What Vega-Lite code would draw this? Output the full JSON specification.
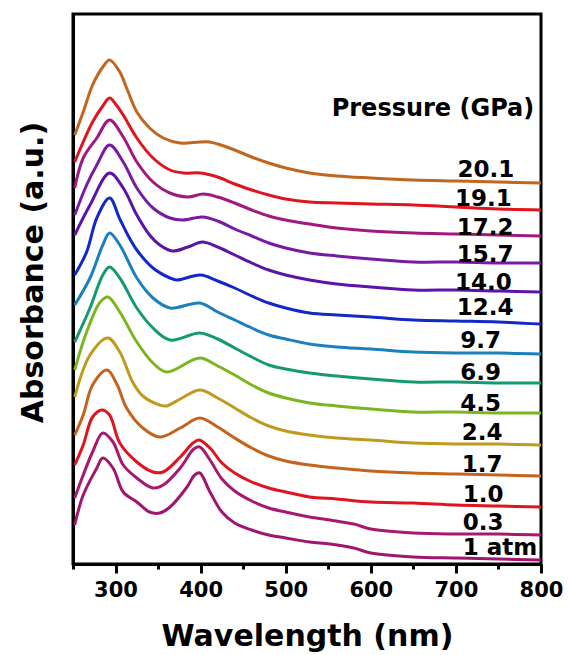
{
  "$schema": "https://vega.github.io/schema/vega-lite/v6.json",
  "width": 468,
  "height": 550,
  "autosize": {"type": "none"},
  "padding": {"left": 73, "top": 14, "right": 27, "bottom": 91},
  "background": "white",
  "config": {
    "view": {"stroke": "black", "strokeWidth": 3},
    "font": "DejaVu Sans",
    "axis": {"domainColor": "black", "domainWidth": 3, "tickColor": "black", "grid": false, "labelColor": "black", "titleColor": "black"}
  },
  "datasets": {
    "curves": [
      {"s":"20.1","w":252,"v":429},{"s":"20.1","w":262,"v":452},{"s":"20.1","w":273,"v":479},{"s":"20.1","w":285,"v":497},{"s":"20.1","w":293,"v":504},{"s":"20.1","w":305,"v":492},{"s":"20.1","w":313,"v":476},{"s":"20.1","w":325,"v":452},{"s":"20.1","w":340,"v":436},{"s":"20.1","w":356,"v":426},{"s":"20.1","w":376,"v":421},{"s":"20.1","w":399,"v":422},{"s":"20.1","w":410,"v":422},{"s":"20.1","w":420,"v":420},{"s":"20.1","w":440,"v":414},{"s":"20.1","w":460,"v":407},{"s":"20.1","w":480,"v":401},{"s":"20.1","w":500,"v":396},{"s":"20.1","w":528,"v":391},{"s":"20.1","w":560,"v":388},{"s":"20.1","w":600,"v":386},{"s":"20.1","w":650,"v":384},{"s":"20.1","w":700,"v":383},{"s":"20.1","w":750,"v":382},{"s":"20.1","w":800,"v":381},
      {"s":"19.1","w":252,"v":402},{"s":"19.1","w":262,"v":422},{"s":"19.1","w":273,"v":442},{"s":"19.1","w":285,"v":458},{"s":"19.1","w":293,"v":466},{"s":"19.1","w":300,"v":460},{"s":"19.1","w":309,"v":449},{"s":"19.1","w":325,"v":426},{"s":"19.1","w":344,"v":406},{"s":"19.1","w":364,"v":394},{"s":"19.1","w":380,"v":391},{"s":"19.1","w":400,"v":391},{"s":"19.1","w":420,"v":387},{"s":"19.1","w":440,"v":380},{"s":"19.1","w":460,"v":374},{"s":"19.1","w":480,"v":369},{"s":"19.1","w":500,"v":365},{"s":"19.1","w":528,"v":362},{"s":"19.1","w":560,"v":361},{"s":"19.1","w":600,"v":360},{"s":"19.1","w":650,"v":359},{"s":"19.1","w":700,"v":357},{"s":"19.1","w":750,"v":355},{"s":"19.1","w":800,"v":354},
      {"s":"17.2","w":252,"v":376},{"s":"17.2","w":262,"v":406},{"s":"17.2","w":278,"v":426},{"s":"17.2","w":293,"v":444},{"s":"17.2","w":309,"v":427},{"s":"17.2","w":325,"v":402},{"s":"17.2","w":344,"v":382},{"s":"17.2","w":364,"v":371},{"s":"17.2","w":385,"v":367},{"s":"17.2","w":403,"v":370},{"s":"17.2","w":420,"v":367},{"s":"17.2","w":440,"v":361},{"s":"17.2","w":460,"v":354},{"s":"17.2","w":480,"v":348},{"s":"17.2","w":500,"v":344},{"s":"17.2","w":528,"v":340},{"s":"17.2","w":560,"v":336},{"s":"17.2","w":600,"v":333},{"s":"17.2","w":650,"v":331},{"s":"17.2","w":700,"v":330},{"s":"17.2","w":750,"v":329},{"s":"17.2","w":800,"v":328},
      {"s":"15.7","w":252,"v":349},{"s":"15.7","w":266,"v":379},{"s":"15.7","w":278,"v":399},{"s":"15.7","w":293,"v":419},{"s":"15.7","w":309,"v":402},{"s":"15.7","w":325,"v":376},{"s":"15.7","w":344,"v":356},{"s":"15.7","w":364,"v":346},{"s":"15.7","w":379,"v":344},{"s":"15.7","w":402,"v":347},{"s":"15.7","w":420,"v":343},{"s":"15.7","w":440,"v":335},{"s":"15.7","w":460,"v":328},{"s":"15.7","w":480,"v":321},{"s":"15.7","w":500,"v":316},{"s":"15.7","w":528,"v":311},{"s":"15.7","w":560,"v":308},{"s":"15.7","w":600,"v":305},{"s":"15.7","w":650,"v":302},{"s":"15.7","w":700,"v":302},{"s":"15.7","w":750,"v":301},{"s":"15.7","w":800,"v":301},
      {"s":"14.0","w":252,"v":329},{"s":"14.0","w":270,"v":359},{"s":"14.0","w":293,"v":391},{"s":"14.0","w":309,"v":376},{"s":"14.0","w":325,"v":349},{"s":"14.0","w":340,"v":329},{"s":"14.0","w":352,"v":319},{"s":"14.0","w":367,"v":313},{"s":"14.0","w":385,"v":317},{"s":"14.0","w":402,"v":322},{"s":"14.0","w":420,"v":317},{"s":"14.0","w":440,"v":309},{"s":"14.0","w":460,"v":301},{"s":"14.0","w":480,"v":294},{"s":"14.0","w":500,"v":289},{"s":"14.0","w":528,"v":284},{"s":"14.0","w":560,"v":280},{"s":"14.0","w":600,"v":277},{"s":"14.0","w":650,"v":274},{"s":"14.0","w":700,"v":274},{"s":"14.0","w":750,"v":273},{"s":"14.0","w":800,"v":272},
      {"s":"12.4","w":252,"v":289},{"s":"12.4","w":266,"v":312},{"s":"12.4","w":278,"v":346},{"s":"12.4","w":293,"v":366},{"s":"12.4","w":305,"v":345},{"s":"12.4","w":315,"v":328},{"s":"12.4","w":325,"v":314},{"s":"12.4","w":344,"v":296},{"s":"12.4","w":364,"v":286},{"s":"12.4","w":372,"v":284},{"s":"12.4","w":400,"v":289},{"s":"12.4","w":420,"v":283},{"s":"12.4","w":440,"v":276},{"s":"12.4","w":460,"v":268},{"s":"12.4","w":480,"v":261},{"s":"12.4","w":500,"v":256},{"s":"12.4","w":528,"v":251},{"s":"12.4","w":560,"v":249},{"s":"12.4","w":600,"v":247},{"s":"12.4","w":650,"v":244},{"s":"12.4","w":700,"v":243},{"s":"12.4","w":750,"v":242},{"s":"12.4","w":800,"v":240},
      {"s":"9.7","w":252,"v":259},{"s":"9.7","w":270,"v":286},{"s":"9.7","w":285,"v":319},{"s":"9.7","w":293,"v":331},{"s":"9.7","w":305,"v":319},{"s":"9.7","w":325,"v":286},{"s":"9.7","w":344,"v":266},{"s":"9.7","w":364,"v":256},{"s":"9.7","w":399,"v":261},{"s":"9.7","w":420,"v":252},{"s":"9.7","w":440,"v":244},{"s":"9.7","w":460,"v":236},{"s":"9.7","w":480,"v":229},{"s":"9.7","w":500,"v":225},{"s":"9.7","w":528,"v":220},{"s":"9.7","w":560,"v":217},{"s":"9.7","w":600,"v":215},{"s":"9.7","w":650,"v":212},{"s":"9.7","w":700,"v":211},{"s":"9.7","w":750,"v":211},{"s":"9.7","w":800,"v":210},
      {"s":"6.9","w":252,"v":222},{"s":"6.9","w":270,"v":256},{"s":"6.9","w":285,"v":289},{"s":"6.9","w":293,"v":297},{"s":"6.9","w":305,"v":286},{"s":"6.9","w":325,"v":256},{"s":"6.9","w":344,"v":236},{"s":"6.9","w":364,"v":224},{"s":"6.9","w":399,"v":231},{"s":"6.9","w":420,"v":225},{"s":"6.9","w":440,"v":216},{"s":"6.9","w":460,"v":207},{"s":"6.9","w":480,"v":199},{"s":"6.9","w":500,"v":195},{"s":"6.9","w":528,"v":191},{"s":"6.9","w":560,"v":188},{"s":"6.9","w":600,"v":185},{"s":"6.9","w":650,"v":182},{"s":"6.9","w":700,"v":182},{"s":"6.9","w":750,"v":181},{"s":"6.9","w":800,"v":181},
      {"s":"4.5","w":252,"v":194},{"s":"4.5","w":266,"v":232},{"s":"4.5","w":282,"v":262},{"s":"4.5","w":291,"v":267},{"s":"4.5","w":305,"v":252},{"s":"4.5","w":325,"v":222},{"s":"4.5","w":344,"v":201},{"s":"4.5","w":360,"v":192},{"s":"4.5","w":399,"v":206},{"s":"4.5","w":420,"v":198},{"s":"4.5","w":440,"v":189},{"s":"4.5","w":460,"v":179},{"s":"4.5","w":480,"v":171},{"s":"4.5","w":500,"v":166},{"s":"4.5","w":528,"v":161},{"s":"4.5","w":560,"v":158},{"s":"4.5","w":600,"v":155},{"s":"4.5","w":650,"v":152},{"s":"4.5","w":700,"v":152},{"s":"4.5","w":750,"v":151},{"s":"4.5","w":800,"v":151},
      {"s":"2.4","w":252,"v":167},{"s":"2.4","w":270,"v":209},{"s":"2.4","w":291,"v":226},{"s":"2.4","w":305,"v":212},{"s":"2.4","w":320,"v":182},{"s":"2.4","w":332,"v":168},{"s":"2.4","w":352,"v":159},{"s":"2.4","w":360,"v":158},{"s":"2.4","w":376,"v":165},{"s":"2.4","w":399,"v":174},{"s":"2.4","w":420,"v":166},{"s":"2.4","w":440,"v":156},{"s":"2.4","w":460,"v":146},{"s":"2.4","w":480,"v":138},{"s":"2.4","w":500,"v":133},{"s":"2.4","w":528,"v":129},{"s":"2.4","w":560,"v":126},{"s":"2.4","w":600,"v":124},{"s":"2.4","w":650,"v":121},{"s":"2.4","w":700,"v":120},{"s":"2.4","w":750,"v":120},{"s":"2.4","w":800,"v":119},
      {"s":"1.7","w":252,"v":129},{"s":"1.7","w":262,"v":149},{"s":"1.7","w":273,"v":179},{"s":"1.7","w":290,"v":194},{"s":"1.7","w":302,"v":179},{"s":"1.7","w":313,"v":156},{"s":"1.7","w":332,"v":136},{"s":"1.7","w":352,"v":127},{"s":"1.7","w":376,"v":136},{"s":"1.7","w":399,"v":146},{"s":"1.7","w":420,"v":137},{"s":"1.7","w":440,"v":126},{"s":"1.7","w":460,"v":116},{"s":"1.7","w":480,"v":108},{"s":"1.7","w":500,"v":103},{"s":"1.7","w":528,"v":99},{"s":"1.7","w":560,"v":96},{"s":"1.7","w":600,"v":93},{"s":"1.7","w":650,"v":91},{"s":"1.7","w":700,"v":90},{"s":"1.7","w":750,"v":89},{"s":"1.7","w":800,"v":88},
      {"s":"1.0","w":252,"v":99},{"s":"1.0","w":262,"v":119},{"s":"1.0","w":273,"v":147},{"s":"1.0","w":284,"v":154},{"s":"1.0","w":293,"v":149},{"s":"1.0","w":305,"v":121},{"s":"1.0","w":325,"v":102},{"s":"1.0","w":344,"v":92},{"s":"1.0","w":356,"v":92},{"s":"1.0","w":376,"v":107},{"s":"1.0","w":391,"v":121},{"s":"1.0","w":398,"v":124},{"s":"1.0","w":411,"v":116},{"s":"1.0","w":425,"v":101},{"s":"1.0","w":440,"v":91},{"s":"1.0","w":460,"v":82},{"s":"1.0","w":480,"v":76},{"s":"1.0","w":500,"v":72},{"s":"1.0","w":528,"v":67},{"s":"1.0","w":560,"v":65},{"s":"1.0","w":600,"v":62},{"s":"1.0","w":650,"v":61},{"s":"1.0","w":700,"v":59},{"s":"1.0","w":750,"v":58},{"s":"1.0","w":800,"v":57},
      {"s":"0.3","w":252,"v":66},{"s":"0.3","w":262,"v":89},{"s":"0.3","w":273,"v":112},{"s":"0.3","w":285,"v":131},{"s":"0.3","w":297,"v":122},{"s":"0.3","w":309,"v":99},{"s":"0.3","w":325,"v":86},{"s":"0.3","w":344,"v":76},{"s":"0.3","w":356,"v":79},{"s":"0.3","w":376,"v":96},{"s":"0.3","w":392,"v":115},{"s":"0.3","w":399,"v":117},{"s":"0.3","w":411,"v":104},{"s":"0.3","w":425,"v":85},{"s":"0.3","w":440,"v":73},{"s":"0.3","w":460,"v":63},{"s":"0.3","w":480,"v":56},{"s":"0.3","w":500,"v":52},{"s":"0.3","w":528,"v":47},{"s":"0.3","w":552,"v":44},{"s":"0.3","w":580,"v":40},{"s":"0.3","w":600,"v":35},{"s":"0.3","w":650,"v":31},{"s":"0.3","w":700,"v":30},{"s":"0.3","w":750,"v":30},{"s":"0.3","w":800,"v":29},
      {"s":"1 atm","w":252,"v":39},{"s":"1 atm","w":262,"v":69},{"s":"1 atm","w":278,"v":96},{"s":"1 atm","w":285,"v":106},{"s":"1 atm","w":297,"v":96},{"s":"1 atm","w":309,"v":72},{"s":"1 atm","w":325,"v":62},{"s":"1 atm","w":340,"v":52},{"s":"1 atm","w":352,"v":51},{"s":"1 atm","w":364,"v":57},{"s":"1 atm","w":384,"v":77},{"s":"1 atm","w":393,"v":89},{"s":"1 atm","w":399,"v":91},{"s":"1 atm","w":411,"v":72},{"s":"1 atm","w":425,"v":52},{"s":"1 atm","w":440,"v":41},{"s":"1 atm","w":460,"v":34},{"s":"1 atm","w":480,"v":29},{"s":"1 atm","w":500,"v":26},{"s":"1 atm","w":528,"v":22},{"s":"1 atm","w":552,"v":20},{"s":"1 atm","w":580,"v":16},{"s":"1 atm","w":600,"v":11},{"s":"1 atm","w":650,"v":7},{"s":"1 atm","w":700,"v":6},{"s":"1 atm","w":750,"v":5},{"s":"1 atm","w":800,"v":4}
    ],
    "labels": [
      {"t":"20.1","w":702,"v":387},{"t":"19.1","w":699,"v":358},{"t":"17.2","w":701,"v":329},{"t":"15.7","w":701,"v":302},{"t":"14.0","w":699,"v":274},{"t":"12.4","w":701,"v":249},{"t":"9.7","w":705,"v":216},{"t":"6.9","w":705,"v":184},{"t":"4.5","w":705,"v":153},{"t":"2.4","w":707,"v":124},{"t":"1.7","w":707,"v":92},{"t":"1.0","w":708,"v":62},{"t":"0.3","w":708,"v":34},{"t":"1 atm","w":708,"v":9}
    ],
    "head": [{"t":"Pressure (GPa)","w":554,"v":448}]
  },
  "layer": [
    {
      "data": {"name": "curves"},
      "mark": {"type": "line", "strokeWidth": 3, "interpolate": "catmull-rom"},
      "encoding": {
        "x": {
          "field": "w", "type": "quantitative",
          "scale": {"domain": [250, 800], "nice": false, "zero": false},
          "axis": {
            "title": "Wavelength (nm)",
            "values": [250, 300, 350, 400, 450, 500, 550, 600, 650, 700, 750, 800],
            "labelExpr": "datum.value % 100 === 0 && datum.value > 250 ? datum.label : ''",
            "labelFont": "DejaVu Sans", "labelFontWeight": "bold", "labelFontSize": 21,
            "labelPadding": 6, "labelFlush": false, "labelOverlap": false,
            "tickWidth": 3,
            "tickSize": {"condition": {"test": "datum.value % 100 === 0", "value": 9}, "value": 5},
            "titleFont": "DejaVu Sans", "titleFontWeight": "bold", "titleFontSize": 30,
            "titleX": 234, "titleY": 81, "titleBaseline": "alphabetic"
          }
        },
        "y": {
          "field": "v", "type": "quantitative",
          "scale": {"domain": [0, 550], "nice": false, "zero": false},
          "axis": {
            "title": "Absorbance (a.u.)", "labels": false, "ticks": false,
            "titleFont": "DejaVu Sans", "titleFontWeight": "bold", "titleFontSize": 30,
            "titleX": -31, "titleY": 258, "titleBaseline": "alphabetic"
          }
        },
        "color": {
          "field": "s", "type": "nominal", "legend": null,
          "scale": {
            "domain": ["1 atm", "0.3", "1.0", "1.7", "2.4", "4.5", "6.9", "9.7", "12.4", "14.0", "15.7", "17.2", "19.1", "20.1"],
            "range": ["#A0166E", "#A8186F", "#E0141E", "#C5621C", "#C09A1C", "#7CB51E", "#139A72", "#1C7FBE", "#1428C8", "#5C14A8", "#7A1AA4", "#A01880", "#E0141E", "#C0661E"]
          }
        }
      }
    },
    {
      "data": {"name": "labels"},
      "mark": {"type": "text", "align": "left", "baseline": "alphabetic", "font": "DejaVu Sans", "fontWeight": "bold", "fontSize": 23, "color": "black"},
      "encoding": {
        "x": {"field": "w", "type": "quantitative"},
        "y": {"field": "v", "type": "quantitative"},
        "text": {"field": "t"}
      }
    },
    {
      "data": {"name": "head"},
      "mark": {"type": "text", "align": "left", "baseline": "alphabetic", "font": "DejaVu Sans", "fontWeight": "bold", "fontSize": 24, "color": "black"},
      "encoding": {
        "x": {"field": "w", "type": "quantitative"},
        "y": {"field": "v", "type": "quantitative"},
        "text": {"field": "t"}
      }
    }
  ]
}
